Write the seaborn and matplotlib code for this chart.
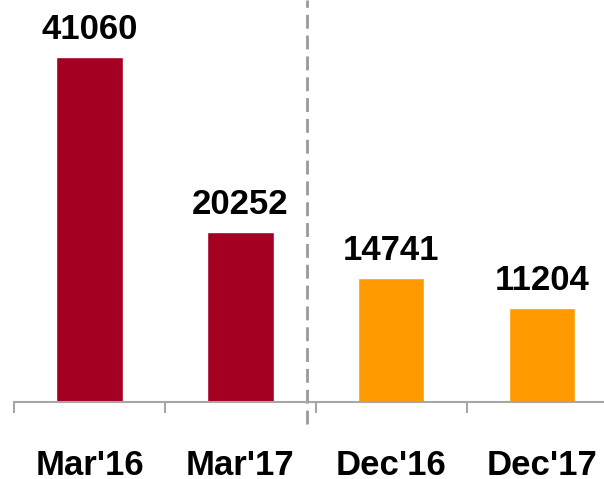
import matplotlib.pyplot as plt
import pandas as pd
import seaborn as sns

# data
periods = ["Mar'16", "Mar'17", "Dec'16", "Dec'17"]
values = [41060, 20252, 14741, 11204]
bar_colors = ['#A50021', '#A50021', '#FF9900', '#FF9900']

df = pd.DataFrame({'period': periods, 'value': values})

sns.set_theme(style='white')
plt.rcParams['font.family'] = ['Liberation Sans', 'DejaVu Sans']

fig = plt.figure(figsize=(6.04, 4.79), dpi=100)
ax = fig.add_axes([14 / 604, 1 - 402 / 479, 1 - 14 / 604, 402 / 479])

sns.barplot(data=df, x='period', y='value', hue='period', palette=bar_colors,
            width=0.44, legend=False, ax=ax, saturation=1)

# value labels above bars
for i, v in enumerate(values):
    ax.text(i, v + 2100, str(v), ha='center', va='baseline',
            fontsize=25, fontweight='bold', color='black')

# dashed separator between Mar and Dec groups
ax.axvline(1.44, ymin=-0.055, ymax=1, color='#999999', lw=2,
           ls=(0, (5, 2.5)), clip_on=False)

ax.set_xlim(-0.5, 3.41)
ax.set_ylim(0, 47844)
ax.set_xlabel('')
ax.set_ylabel('')
ax.set_yticks([])

for side in ['top', 'right', 'left']:
    ax.spines[side].set_visible(False)
ax.spines['bottom'].set_color('#A6A6A6')
ax.spines['bottom'].set_linewidth(1.5)

# ticks at category boundaries, labels centred
ax.set_xticks([-0.5, 0.5, 1.5, 2.5], minor=True)
ax.tick_params(axis='x', which='minor', length=8, width=1.5, color='#A6A6A6',
               bottom=True, direction='out')
ax.tick_params(axis='x', which='major', length=0, pad=34)
ax.set_xticks(range(len(periods)))
ax.set_xticklabels(periods, fontsize=25, fontweight='bold', color='black')

fig.savefig('out.png', dpi=100)
